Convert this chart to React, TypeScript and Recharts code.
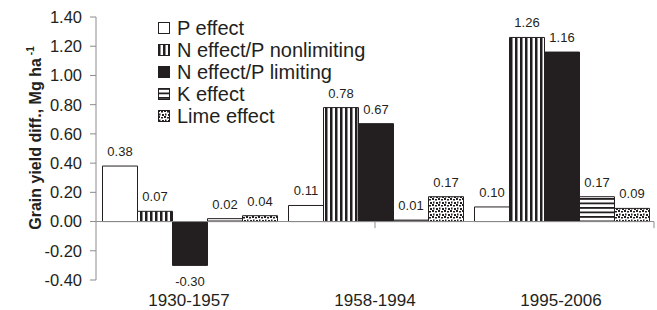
import { Bar, BarChart, LabelList, ReferenceLine, XAxis, YAxis } from "recharts";

const FONT = '"Liberation Sans", Arial, sans-serif';
const INK = "#231f20";

const periods = ["1930-1957", "1958-1994", "1995-2006"];
const pEffect = [0.38, 0.11, 0.1];
const nNonlimiting = [0.07, 0.78, 1.26];
const nLimiting = [-0.3, 0.67, 1.16];
const kEffect = [0.02, 0.01, 0.17];
const limeEffect = [0.04, 0.17, 0.09];
const yTicks = [-0.4, -0.2, 0, 0.2, 0.4, 0.6, 0.8, 1.0, 1.2, 1.4];

const data = periods.map((period, i) => ({
  period,
  p: pEffect[i],
  nNon: nNonlimiting[i],
  nLim: nLimiting[i],
  k: kEffect[i],
  lime: limeEffect[i],
}));

const SERIES = [
  { key: "p", name: "P effect", fill: "#ffffff" },
  { key: "nNon", name: "N effect/P nonlimiting", fill: "url(#vstripe)" },
  { key: "nLim", name: "N effect/P limiting", fill: INK },
  { key: "k", name: "K effect", fill: "url(#hstripe)" },
  { key: "lime", name: "Lime effect", fill: "url(#dots)" },
];

function ValueLabel(props: any) {
  const { x, y, width, height, value } = props;
  const top = Math.min(y, y + height);
  const bottom = Math.max(y, y + height);
  const ty = value >= 0 ? top - 10 : bottom + 21;
  return (
    <text x={x + width / 2} y={ty} textAnchor="middle" fontSize={13} fill={INK} fontFamily={FONT}>
      {Number(value).toFixed(2)}
    </text>
  );
}

function YTitle() {
  return (
    <text
      x={41}
      y={138}
      transform="rotate(-90 41 138)"
      textAnchor="middle"
      fontSize={16}
      fontWeight="bold"
      fill={INK}
      fontFamily={FONT}
    >
      Grain yield diff., Mg ha
      <tspan dx={3} dy={-7} fontSize={10}>
        -1
      </tspan>
    </text>
  );
}

function LegendBox() {
  return (
    <div
      style={{
        position: "absolute",
        left: 158,
        top: 17,
        fontFamily: FONT,
        fontSize: 20,
        color: INK,
        pointerEvents: "none",
      }}
    >
      {SERIES.map((s) => (
        <div key={s.key} style={{ display: "flex", alignItems: "center", height: 22 }}>
          <svg width={13} height={12} style={{ marginRight: 6 }}>
            <rect x={0.5} y={0.5} width={11} height={11} fill={s.fill} stroke={INK} strokeWidth={1} />
          </svg>
          <span style={{ lineHeight: "22px", whiteSpace: "nowrap" }}>{s.name}</span>
        </div>
      ))}
    </div>
  );
}

export default function App() {
  return (
    <div style={{ position: "relative", width: 657, height: 310, background: "#fff" }}>
      <style>{"body{margin:0}"}</style>
      <BarChart
        width={657}
        height={310}
        data={data}
        margin={{ top: 17, right: 3, bottom: 0, left: 0 }}
        barCategoryGap="3.5%"
        barGap={0}
      >
        <defs>
          <pattern id="vstripe" width={5} height={10} patternUnits="userSpaceOnUse">
            <rect width={5} height={10} fill="#fff" />
            <rect width={2.5} height={10} fill={INK} />
          </pattern>
          <pattern id="hstripe" width={10} height={4.5} patternUnits="userSpaceOnUse">
            <rect width={10} height={4.5} fill="#fff" />
            <rect width={10} height={1.8} fill={INK} />
          </pattern>
          <pattern id="dots" width={6} height={6} patternUnits="userSpaceOnUse">
            <rect width={6} height={6} fill="#fff" />
            <rect x={0} y={0} width={2} height={2} fill={INK} />
            <rect x={3} y={1} width={2} height={1.5} fill={INK} />
            <rect x={1} y={3.5} width={1.5} height={2} fill={INK} />
            <rect x={4} y={4} width={2} height={2} fill={INK} />
          </pattern>
        </defs>
        <XAxis
          dataKey="period"
          axisLine={false}
          tickLine={false}
          height={30}
          tickSize={0}
          tickMargin={14}
          tick={{ fontSize: 17, fill: INK, fontFamily: FONT }}
        />
        <XAxis xAxisId="bounds" type="number" domain={[0, 3]} hide />
        <YAxis
          domain={[-0.4, 1.4]}
          ticks={yTicks}
          interval={0}
          width={96}
          tickSize={6}
          tickMargin={8}
          stroke="#8c8c8c"
          tick={{ fontSize: 16.5, fill: INK, fontFamily: FONT }}
          tickFormatter={(v: number) => v.toFixed(2)}
          label={<YTitle />}
        />
        <ReferenceLine y={0} stroke="#8c8c8c" />
        {[1, 2, 3].map((b) => (
          <ReferenceLine
            key={b}
            xAxisId="bounds"
            stroke="#8c8c8c"
            segment={[
              { x: b, y: 0 },
              { x: b, y: -0.045 },
            ]}
          />
        ))}
        {SERIES.map((s) => (
          <Bar
            key={s.key}
            dataKey={s.key}
            name={s.name}
            fill={s.fill}
            stroke={INK}
            strokeWidth={1}
            isAnimationActive={false}
          >
            <LabelList dataKey={s.key} content={<ValueLabel />} />
          </Bar>
        ))}
      </BarChart>
      <LegendBox />
    </div>
  );
}
